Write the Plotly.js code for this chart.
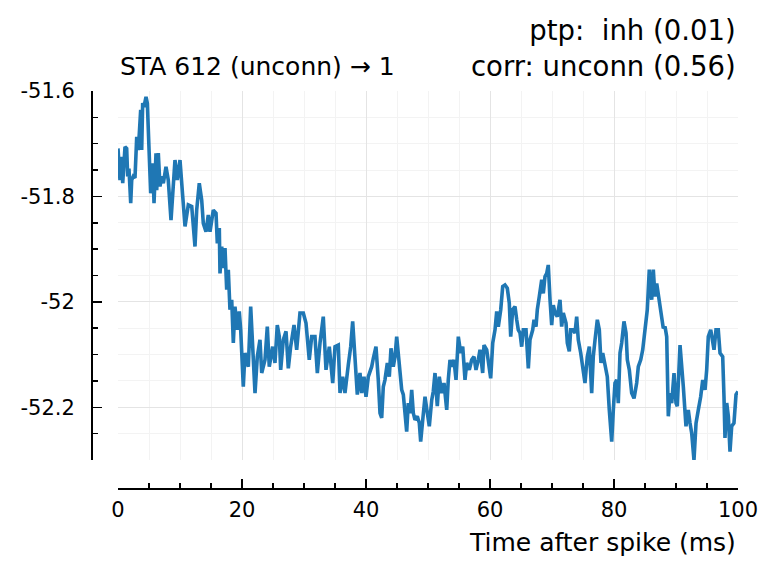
<!DOCTYPE html>
<html>
<head>
<meta charset="utf-8">
<script src="https://cdn.plot.ly/plotly-3.0.1.min.js"></script>
<style>html,body{margin:0;padding:0;background:#fff;}</style>
</head>
<body>
<div id="chart" style="width:779px;height:576px;"></div>
<script>
const timeMs = [0, 0.32, 0.60, 0.76, 1.13, 1.40, 1.56, 1.77, 2.05, 2.21, 2.47, 2.74, 3.02, 3.27, 3.44, 3.66, 3.82, 3.98, 4.19, 4.52, 4.73, 5.05, 5.27, 5.60, 5.81, 6.13, 6.24, 6.50, 6.77, 7.05, 7.31, 7.74, 8.11, 8.55, 8.82, 9.19, 9.56, 10.00, 10.44, 10.81,
11.34, 11.89, 12.42, 12.69, 13.11, 13.50, 13.76, 14.19, 14.56, 14.84, 15.37, 15.81, 16.02, 16.34, 16.45, 16.73, 16.98, 17.26, 17.53, 17.79, 18.06, 18.34, 18.60, 18.87, 19.24, 19.56, 19.79, 20.21, 20.48, 21.02, 21.40, 21.82, 22.10, 22.47, 22.90, 23.18, 23.71, 24.08, 24.40, 24.95, 25.32, 25.69, 26.02, 26.24, 26.66, 27.10, 27.47, 27.85, 28.39, 28.82, 29.35, 29.89, 30.32, 30.85, 31.24, 31.77, 32.15, 32.58, 33.11, 33.55, 34.08, 34.63, 35.00, 35.53, 35.81, 36.24, 36.61, 37.15, 37.53, 37.85, 38.23, 38.60, 39.03, 39.31, 39.68, 40.00, 40.37, 40.92, 41.18, 41.61, 41.98, 42.26, 42.53, 42.79, 43.06, 43.44, 43.76, 44.03, 44.40, 44.68, 44.95, 45.21, 45.48, 45.76, 46.02, 46.29, 46.56, 46.82, 47.10, 47.37, 47.63, 47.90, 48.27, 48.60, 48.82, 49.15, 49.52, 49.89, 50.21, 50.60, 50.85, 51.13, 51.50, 51.82, 52.21, 52.58, 53.02, 53.27, 53.55, 53.82, 54.19, 54.52, 54.89, 55.27, 55.60, 55.97, 56.24, 56.66, 57.05, 57.42, 57.74, 58.11, 58.39, 58.82, 59.03, 59.47, 59.73, 60.11, 60.44, 60.81, 61.08, 61.34, 61.73, 62.05, 62.42, 62.79, 63.11, 63.34, 63.66, 64.03, 64.31, 64.56, 64.84, 65.11, 65.37, 65.81, 66.18, 66.45, 66.89, 67.10, 67.42, 67.63, 67.95, 68.34, 68.60, 68.87, 69.15, 69.40, 69.68, 69.95, 70.21, 70.48, 70.85, 71.29, 71.56, 71.82, 72.26, 72.47, 72.79, 73.02, 73.34, 73.71, 73.98, 74.24, 74.63, 75.05, 75.32, 75.69, 76.02, 76.40, 76.66, 76.94, 77.31, 77.63, 77.90, 78.18, 78.55, 78.92, 79.24, 79.63, 79.89, 80.16, 80.44, 80.69, 80.97, 81.24, 81.61, 81.94, 82.15, 82.47, 82.85, 83.23, 83.66, 83.92, 84.31, 84.63, 85.00, 85.37, 85.69, 86.08, 86.34, 86.61, 86.89, 87.26, 87.58, 87.95, 88.23, 88.50, 88.76, 89.03, 89.31, 89.68, 90.00, 90.21, 90.65, 90.92, 91.18, 91.61, 91.98, 92.26, 92.53, 92.90, 93.23, 93.60, 93.98, 94.31, 94.68, 94.95, 95.21, 95.60, 95.92, 96.13, 96.45, 96.82, 97.10, 97.53, 97.74, 97.90, 98.18, 98.44, 98.71, 98.98, 99.35, 99.68, 100.00];

const staMv = [-51.709, -51.769, -51.725, -51.775, -51.706, -51.709, -51.762, -51.747, -51.813, -51.769, -51.762, -51.765, -51.687, -51.712, -51.680, -51.636, -51.712, -51.623, -51.630, -51.611, -51.623, -51.737, -51.794, -51.737, -51.813, -51.718, -51.788, -51.718, -51.781, -51.762, -51.775, -51.744, -51.769, -51.845, -51.794, -51.731, -51.769, -51.731, -51.800, -51.857,
-51.816, -51.819, -51.895, -51.826, -51.775, -51.807, -51.851, -51.867, -51.835, -51.867, -51.826, -51.832, -51.889, -51.860, -51.946, -51.895, -51.936, -51.898, -51.977, -51.939, -52.015, -51.996, -52.078, -52.009, -52.053, -52.018, -52.053, -52.161, -52.097, -52.123, -52.009, -52.097, -52.173, -52.104, -52.072, -52.135, -52.110, -52.047, -52.123, -52.085, -52.116, -52.044, -52.066, -52.129, -52.072, -52.056, -52.126, -52.085, -52.044, -52.091, -52.021, -52.021, -52.040, -52.110, -52.066, -52.066, -52.135, -52.078, -52.028, -52.129, -52.085, -52.154, -52.085, -52.082, -52.173, -52.142, -52.173, -52.119, -52.085, -52.037, -52.104, -52.176, -52.135, -52.173, -52.142, -52.180, -52.142, -52.123, -52.107, -52.085, -52.148, -52.211, -52.220, -52.161, -52.148, -52.116, -52.142, -52.088, -52.123, -52.104, -52.066, -52.097, -52.126, -52.167, -52.176, -52.205, -52.246, -52.192, -52.211, -52.167, -52.211, -52.224, -52.217, -52.230, -52.265, -52.224, -52.180, -52.211, -52.236, -52.186, -52.170, -52.135, -52.198, -52.142, -52.173, -52.154, -52.205, -52.148, -52.110, -52.123, -52.110, -52.148, -52.066, -52.097, -52.085, -52.148, -52.116, -52.129, -52.110, -52.104, -52.129, -52.110, -52.091, -52.135, -52.082, -52.091, -52.116, -52.145, -52.078, -52.053, -52.018, -52.047, -52.015, -51.971, -51.968, -51.974, -52.002, -52.066, -52.015, -52.009, -52.034, -52.053, -52.059, -52.085, -52.053, -52.053, -52.126, -52.072, -52.053, -52.034, -52.047, -52.015, -51.990, -51.958, -51.984, -51.952, -51.946, -51.930, -51.996, -52.044, -52.006, -52.021, -52.028, -51.996, -52.047, -52.021, -52.040, -52.078, -52.094, -52.053, -52.053, -52.059, -52.028, -52.072, -52.097, -52.129, -52.154, -52.104, -52.085, -52.173, -52.104, -52.072, -52.034, -52.053, -52.116, -52.097, -52.116, -52.142, -52.205, -52.265, -52.205, -52.154, -52.148, -52.192, -52.097, -52.078, -52.037, -52.059, -52.110, -52.129, -52.173, -52.183, -52.154, -52.123, -52.110, -52.091, -52.053, -52.015, -51.939, -51.996, -51.939, -51.990, -51.965, -51.996, -52.028, -52.050, -52.047, -52.066, -52.217, -52.173, -52.192, -52.135, -52.192, -52.198, -52.082, -52.135, -52.161, -52.236, -52.205, -52.230, -52.249, -52.300, -52.230, -52.205, -52.180, -52.148, -52.167, -52.129, -52.066, -52.053, -52.078, -52.091, -52.053, -52.053, -52.097, -52.104, -52.180, -52.258, -52.192, -52.217, -52.284, -52.236, -52.230, -52.176, -52.170];

const xTickVals = [0, 20, 40, 60, 80, 100];
const xTickText = ["0", "20", "40", "60", "80", "100"];
const yTickVals = [-52.2, -52.0, -51.8, -51.6];
const yTickText = ["-52.2", "-52", "-51.8", "-51.6"];

const leftTitle = "STA 612 (unconn) \u2192 1";
const rightTitle = "ptp:\u00a0 inh (0.01)<br>corr: unconn (0.56)";
const xTitle = "Time after spike (ms)";

const FONT = "DejaVu Sans, Verdana, sans-serif";
const plotW = 779 - 91 - 41, plotH = 576 - 91 - 88;

const trace = {
  x: timeMs, y: staMv, type: "scatter", mode: "lines",
  line: {color: "#1f77b4", width: 3.6, shape: "linear"},
  hoverinfo: "skip"
};

const layout = {
  width: 779, height: 576,
  margin: {l: 91, r: 41, t: 91, b: 88, pad: 0},
  paper_bgcolor: "#ffffff", plot_bgcolor: "#ffffff",
  showlegend: false,
  font: {family: FONT, color: "#000", size: 21},
  xaxis: {
    domain: [27 / plotW, 1], anchor: "free", position: 0,
    range: [0, 100], tickmode: "array", tickvals: xTickVals, ticktext: xTickText,
    ticks: "inside", ticklen: 9, tickwidth: 1.5, tickcolor: "#000",
    showline: true, linecolor: "#000", linewidth: 1.5,
    showgrid: true, gridcolor: "#e4e4e4", gridwidth: 1, zeroline: false,
    tickfont: {family: FONT, size: 21, color: "#000"},
    ticklabelstandoff: 2,
    minor: {tickmode: "linear", tick0: 0, dtick: 5, ticks: "inside", ticklen: 5, tickwidth: 1.5, tickcolor: "#000", showgrid: true, gridcolor: "#f3f3f3", gridwidth: 1}
  },
  yaxis: {
    domain: [28 / plotH, 1], anchor: "free", position: 0,
    range: [-52.3, -51.6], tickmode: "array", tickvals: yTickVals, ticktext: yTickText,
    ticks: "inside", ticklen: 9, tickwidth: 1.5, tickcolor: "#000",
    showline: true, linecolor: "#000", linewidth: 1.5,
    showgrid: true, gridcolor: "#e4e4e4", gridwidth: 1, zeroline: false,
    tickfont: {family: FONT, size: 21, color: "#000"},
    ticklabelstandoff: 12,
    minor: {tickmode: "linear", tick0: -51.6, dtick: 0.05, ticks: "inside", ticklen: 5, tickwidth: 1.5, tickcolor: "#000", showgrid: true, gridcolor: "#f3f3f3", gridwidth: 1}
  },
  annotations: [
    {text: leftTitle, xref: "paper", yref: "paper", x: 27 / plotW, y: (488 - 66) / plotH,
     xanchor: "left", yanchor: "middle", showarrow: false, font: {family: FONT, size: 25, color: "#000"}},
    {text: rightTitle, xref: "paper", yref: "paper", x: 1, y: (488 - 48) / plotH,
     xanchor: "right", yanchor: "middle", align: "right", showarrow: false, font: {family: FONT, size: 27.5, color: "#000"}},
    {text: xTitle, xref: "paper", yref: "paper", x: 1, y: (488 - 542) / plotH,
     xanchor: "right", yanchor: "middle", showarrow: false, font: {family: FONT, size: 25, color: "#000"}}
  ]
};

Plotly.newPlot("chart", [trace], layout, {displayModeBar: false, staticPlot: true});
</script>
</body>
</html>
